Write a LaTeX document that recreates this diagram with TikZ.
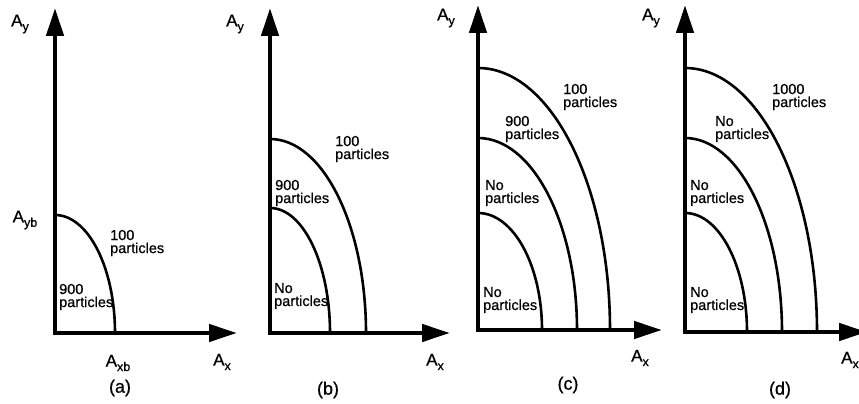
\documentclass[tikz,border=0pt]{standalone}
\usepackage{fontspec}
\setmainfont{Liberation Sans}[FakeBold=0.7]
\usetikzlibrary{arrows.meta}
\newcommand{\axsub}[1]{\raisebox{-0.5ex}{\fontsize{12.5}{12.5}\selectfont #1}}

\begin{document}
\begin{tikzpicture}[
  x=1pt, y=1pt,
  font=\fontsize{14.5}{13}\selectfont,
  every node/.style={inner sep=0pt},
  axis/.style={{Triangle[length=28pt,width=17pt]}-{Triangle[length=28pt,width=17pt]},
               line width=4.5pt},
  level/.style={line width=2.6pt},
  region/.style={align=left, anchor=west},
  axname/.style={font=\fontsize{17}{17}\selectfont},
  caption/.style={font=\fontsize{18}{18}\selectfont}
]
\clip (0,0) rectangle (859,404);

% (a)
\begin{scope}[shift={(55,71)}]
  \coordinate (a-o) at (0,0);
  \coordinate (a-y) at (0,325);
  \coordinate (a-x) at (182,0);
  \draw[axis] (a-y) -- (a-o) -- (a-x);
  \draw[level] (0,118) arc[start angle=90, end angle=0, x radius=60pt, y radius=118pt];
  \node[axname] (a-ay)  at (-35,309) {A\axsub{y}};
  \node[axname] (a-ayb) at (-30,113) {A\axsub{yb}};
  \node[axname] (a-axb) at (63,-30)  {A\axsub{xb}};
  \node[axname] (a-ax)  at (167,-29) {A\axsub{x}};
  \node[region] (a-out) at (55,90) {100\\particles};
  \node[region] (a-in)  at (4,36)  {900\\particles};
  \node[caption] (a-cap) at (65,-55) {(a)};
\end{scope}

% (b)
\begin{scope}[shift={(270,71)}]
  \coordinate (b-o) at (0,0);
  \coordinate (b-y) at (0,325);
  \coordinate (b-x) at (180,0);
  \draw[axis] (b-y) -- (b-o) -- (b-x);
  \draw[level] (0,125) arc[start angle=90, end angle=0, x radius=60pt, y radius=125pt];
  \draw[level] (0,194) arc[start angle=90, end angle=0, x radius=96pt, y radius=194pt];
  \node[axname] (b-ay) at (-35,309) {A\axsub{y}};
  \node[axname] (b-ax) at (165,-29) {A\axsub{x}};
  \node[region] (b-out) at (65,184) {100\\particles};
  \node[region] (b-mid) at (5,140)  {900\\particles};
  \node[region] (b-in)  at (4,37)   {No\\particles};
  \node[caption] (b-cap) at (58,-57) {(b)};
\end{scope}

% (c)
\begin{scope}[shift={(478,74)}]
  \coordinate (c-o) at (0,0);
  \coordinate (c-y) at (0,325);
  \coordinate (c-x) at (184,0);
  \draw[axis] (c-y) -- (c-o) -- (c-x);
  \draw[level] (0,117) arc[start angle=90, end angle=0, x radius=64pt, y radius=117pt];
  \draw[level] (0,192) arc[start angle=90, end angle=0, x radius=99pt, y radius=192pt];
  \draw[level] (0,262) arc[start angle=90, end angle=0, x radius=132pt, y radius=262pt];
  \node[axname] (c-ay) at (-32,312) {A\axsub{y}};
  \node[axname] (c-ax) at (162,-28) {A\axsub{x}};
  \node[region] (c-out)  at (85,233) {100\\particles};
  \node[region] (c-mid2) at (27,201) {900\\particles};
  \node[region] (c-mid1) at (7,137)  {No\\particles};
  \node[region] (c-in)   at (5,30)   {No\\particles};
  \node[caption] (c-cap) at (90,-55) {(c)};
\end{scope}

% (d)
\begin{scope}[shift={(685,72)}]
  \coordinate (d-o) at (0,0);
  \coordinate (d-y) at (0,327);
  \coordinate (d-x) at (182,0);
  \draw[axis] (d-y) -- (d-o) -- (d-x);
  \draw[level] (0,119) arc[start angle=90, end angle=0, x radius=62pt, y radius=119pt];
  \draw[level] (0,194) arc[start angle=90, end angle=0, x radius=97pt, y radius=194pt];
  \draw[level] (0,264) arc[start angle=90, end angle=0, x radius=132pt, y radius=264pt];
  \node[axname] (d-ay) at (-34,314) {A\axsub{y}};
  \node[axname] (d-ax) at (165,-28) {A\axsub{x}};
  \node[region] (d-out)  at (87,235) {1000\\particles};
  \node[region] (d-mid2) at (30,203) {No\\particles};
  \node[region] (d-mid1) at (5,139)  {No\\particles};
  \node[region] (d-in)   at (5,32)   {No\\particles};
  \node[caption] (d-cap) at (95,-58) {(d)};
\end{scope}

\end{tikzpicture}
\end{document}
